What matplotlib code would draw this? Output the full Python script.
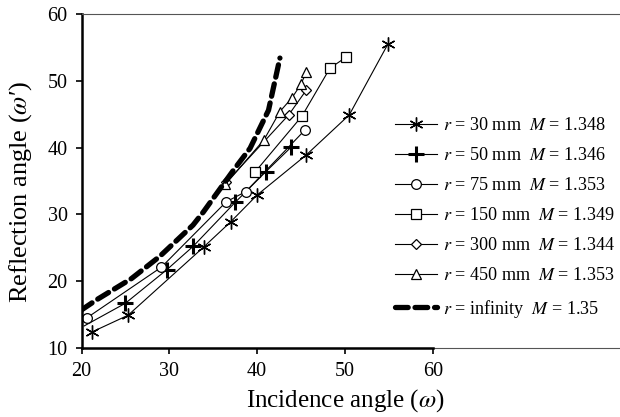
import numpy as np
import matplotlib
matplotlib.use('Agg')
import matplotlib.pyplot as plt

plt.rcParams['font.family'] = ['Liberation Serif', 'DejaVu Serif']
plt.rcParams['mathtext.fontset'] = 'stix'

# r = 30 mm
x30 = [21.2, 25.3, 33.9, 37.0, 40.0, 45.6, 50.5, 54.9]
y30 = [12.4, 14.9, 25.1, 28.9, 32.9, 38.9, 44.9, 55.5]
# r = 50 mm (first point has no visible marker)
x50 = [20.3, 25.0, 29.7, 32.7, 37.5, 41.0, 43.9]
y50 = [13.3, 16.7, 21.7, 25.2, 31.8, 36.4, 40.1]
# r = 75 mm
x75 = [20.6, 29.1, 36.5, 38.7, 45.5]
y75 = [14.5, 22.1, 31.9, 33.4, 42.7]
# r = 150 mm
x150 = [39.8, 45.1, 48.3, 50.1]
y150 = [36.4, 44.7, 51.9, 53.5]
# r = 300 mm
x300 = [36.5, 43.6, 45.6]
y300 = [34.8, 44.9, 48.6]
# r = 450 mm
x450 = [36.4, 40.8, 42.6, 44.0, 45.0, 45.6]
y450 = [34.5, 41.2, 45.4, 47.5, 49.5, 51.3]
# r = infinity
xinf = [20.0, 21.7, 25.7, 28.9, 32.7, 33.9, 37.3, 39.2, 41.3, 42.6]
yinf = [15.7, 17.2, 20.4, 23.7, 28.4, 30.4, 36.6, 39.9, 45.6, 53.4]

labels = [r'$r$ = 30 mm  $M$ = 1.348',
          r'$r$ = 50 mm  $M$ = 1.346',
          r'$r$ = 75 mm  $M$ = 1.353',
          r'$r$ = 150 mm  $M$ = 1.349',
          r'$r$ = 300 mm  $M$ = 1.344',
          r'$r$ = 450 mm  $M$ = 1.353',
          r'$r$ = infinity  $M$ = 1.35']

W, H = 620, 417
fig = plt.figure(figsize=(W / 100, H / 100), dpi=100)
ax = fig.add_axes([81.5 / W, (H - 348) / H, 1 - 81.5 / W, (348 - 14) / H])

lw = 0.8
ax.plot(x30, y30, color='black', lw=lw, marker=(6, 2, 0), ms=10, mew=1.0, label=labels[0])
ax.plot(x50, y50, color='black', lw=lw, marker='+', ms=11, mew=2.2,
        markevery=list(range(1, len(x50))), label=labels[1])
ax.plot(x75, y75, color='black', lw=lw, marker='o', ms=7, mfc='white', mew=0.9, label=labels[2])
ax.plot(x150, y150, color='black', lw=lw, marker='s', ms=7, mfc='white', mew=0.9, label=labels[3])
ax.plot(x300, y300, color='black', lw=lw, marker='D', ms=5.5, mfc='white', mew=0.9, label=labels[4])
ax.plot(x450, y450, color='black', lw=lw, marker='^', ms=7.5, mfc='white', mew=0.9, label=labels[5])
ax.plot(xinf, yinf, color='black', lw=3.8, ls=(0, (2.4, 1.3)), dash_capstyle='round',
        label=labels[6])

ax.set_xlim(20, 20 + (W - 81.5) / 8.78)
ax.set_ylim(10, 60)
ax.set_xticks([20, 30, 40, 50, 60])
ax.set_yticks([10, 20, 30, 40, 50, 60])
ax.tick_params(direction='out', length=4, width=1.2, labelsize=14.5, pad=6)

ax.spines['right'].set_visible(False)
ax.spines['top'].set_color('#555555')
ax.spines['top'].set_linewidth(0.8)
ax.spines['left'].set_linewidth(1.8)
ax.spines['bottom'].set_bounds(20, 60)
ax.spines['bottom'].set_linewidth(1.8)
ax.axhline(10, color='#555555', lw=0.8, clip_on=False, zorder=0)

ax.set_xlabel(r'Incidence angle ($\omega$)', fontsize=18, va='center')
ax.xaxis.set_label_coords(0.49, -0.157)
ax.set_ylabel("Reflection angle ($\\omega$\u2032)", fontsize=19, va='center')
ax.yaxis.set_label_coords(-0.114, 0.467)

ax.legend(loc='upper left', bbox_to_anchor=(395 / W, 1 - 117 / H),
          bbox_transform=fig.transFigure, frameon=False, fontsize=13.1,
          handlelength=2.3, handletextpad=0.35, labelspacing=0.72,
          borderpad=0, borderaxespad=0)

fig.savefig('out.png', dpi=100)
